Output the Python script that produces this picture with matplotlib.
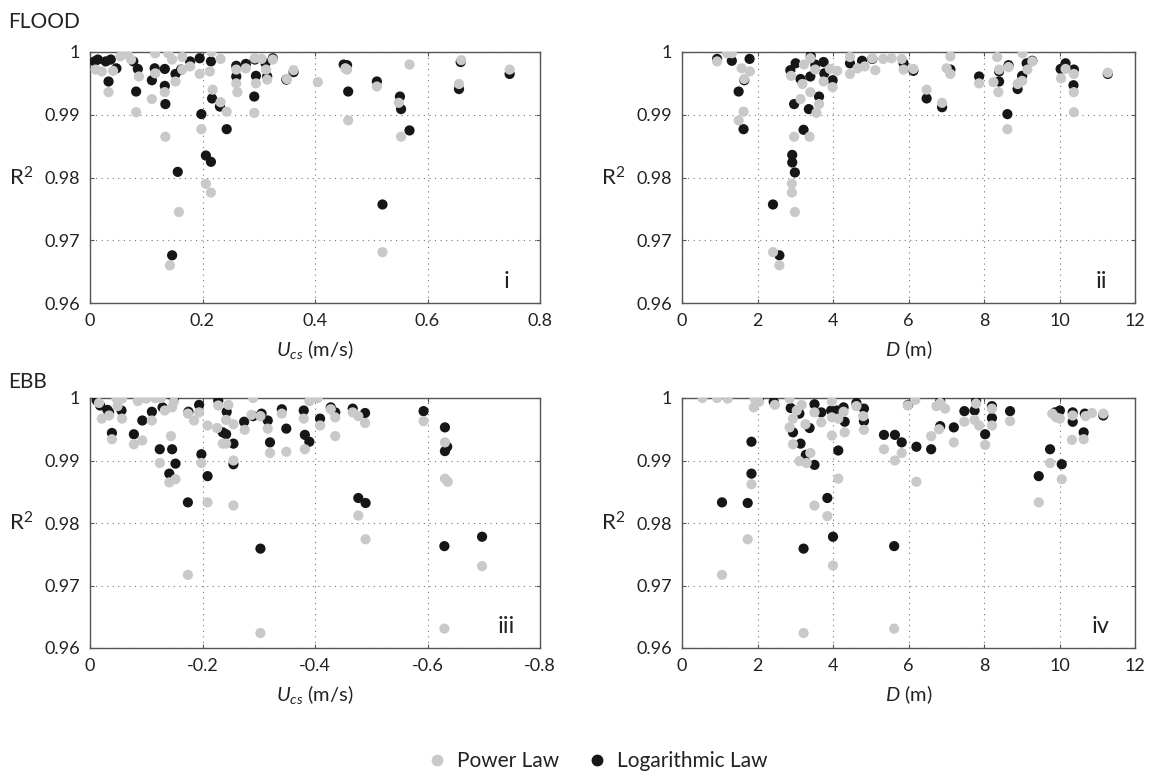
import matplotlib
matplotlib.use('Agg')
import matplotlib.pyplot as plt
import numpy as np

plt.rcParams['font.family'] = ['Lato', 'DejaVu Sans']
plt.rcParams['mathtext.fontset'] = 'custom'
plt.rcParams['mathtext.rm'] = 'Lato'
plt.rcParams['mathtext.it'] = 'Lato:italic'
plt.rcParams['axes.unicode_minus'] = False

# ---- panel i : flood, R2 vs Ucs ----
flood_u_log = [0.008, 0.014, 0.028, 0.037, 0.033, 0.047, 0.077, 0.085, 0.082, 0.110, 0.115, 0.133,
               0.133, 0.134, 0.152, 0.162, 0.156, 0.146, 0.178, 0.195, 0.198, 0.206, 0.215, 0.215,
               0.217, 0.231, 0.243, 0.260, 0.260, 0.277, 0.293, 0.295, 0.292, 0.312, 0.315, 0.325,
               0.349, 0.362, 0.451, 0.457, 0.459, 0.510, 0.520, 0.551, 0.553, 0.568, 0.659, 0.656,
               0.746]
flood_u_r2_log = [0.9985, 0.9988, 0.9985, 0.9988, 0.9953, 0.9974, 0.9985, 0.9973, 0.9937, 0.9955,
                  0.9974, 0.9973, 0.9946, 0.9917, 0.9965, 0.9972, 0.9809, 0.9676, 0.9985, 0.9990,
                  0.9901, 0.9835, 0.9825, 0.9985, 0.9926, 0.9913, 0.9877, 0.9978, 0.9961, 0.9981,
                  0.9988, 0.9962, 0.9929, 0.9982, 0.9961, 0.9990, 0.9956, 0.9968, 0.9980, 0.9979,
                  0.9937, 0.9953, 0.9757, 0.9929, 0.9909, 0.9875, 0.9984, 0.9941, 0.9965]
flood_u_pow = [0.010, 0.021, 0.033, 0.041, 0.054, 0.067, 0.073, 0.082, 0.087, 0.110, 0.116, 0.116,
               0.134, 0.133, 0.139, 0.146, 0.152, 0.142, 0.158, 0.164, 0.164, 0.178, 0.195, 0.198,
               0.206, 0.215, 0.216, 0.213, 0.218, 0.232, 0.232, 0.243, 0.260, 0.262, 0.260, 0.277,
               0.292, 0.295, 0.293, 0.305, 0.313, 0.315, 0.325, 0.350, 0.362, 0.405, 0.454, 0.457,
               0.459, 0.510, 0.520, 0.549, 0.553, 0.568, 0.660, 0.656, 0.746]
flood_u_r2_pow = [0.9972, 0.9969, 0.9936, 0.9970, 0.9993, 0.9996, 0.9988, 0.9904, 0.9961, 0.9925,
                  0.9998, 0.9966, 0.9865, 0.9936, 0.9998, 0.9988, 0.9953, 0.9660, 0.9745, 0.9992,
                  0.9972, 0.9977, 0.9965, 0.9877, 0.9790, 0.9776, 1.0000, 0.9969, 0.9940, 0.9989,
                  0.9920, 0.9905, 0.9950, 0.9936, 0.9972, 0.9974, 0.9903, 0.9950, 0.9990, 0.9989,
                  0.9972, 0.9956, 0.9988, 0.9957, 0.9971, 0.9952, 0.9974, 0.9972, 0.9891, 0.9945,
                  0.9681, 0.9919, 0.9865, 0.9980, 0.9987, 0.9949, 0.9972]

# ---- panel ii : flood, R2 vs D ----
flood_d_log = [0.93, 1.32, 1.50, 1.65, 1.63, 1.79, 2.41, 2.58, 2.87, 2.92, 2.92, 2.99, 2.97, 3.01,
               3.14, 3.22, 3.36, 3.40, 3.41, 3.53, 3.63, 3.75, 3.77, 3.99, 4.45, 4.77, 5.04, 5.87,
               6.13, 6.48, 6.89, 7.11, 7.87, 8.40, 8.40, 8.62, 8.65, 8.89, 9.01, 9.13, 9.28, 10.03,
               10.16, 10.38, 10.37, 11.28]
flood_d_r2_log = [0.9989, 0.9986, 0.9937, 0.9955, 0.9877, 0.9989, 0.9757, 0.9676, 0.9971, 0.9836,
                  0.9824, 0.9808, 0.9917, 0.9982, 0.9957, 0.9876, 0.9909, 0.9961, 0.9994, 0.9980,
                  0.9929, 0.9984, 0.9966, 0.9955, 0.9982, 0.9986, 0.9989, 0.9982, 0.9970, 0.9926,
                  0.9912, 0.9972, 0.9961, 0.9953, 0.9969, 0.9901, 0.9979, 0.9941, 0.9962, 0.9982,
                  0.9986, 0.9973, 0.9982, 0.9972, 0.9947, 0.9965]
flood_d_pow = [0.93, 1.19, 1.32, 1.50, 1.63, 1.58, 1.65, 1.80, 2.41, 2.58, 2.89, 2.91, 2.91, 2.99,
               2.97, 3.14, 3.19, 3.23, 3.38, 3.40, 3.40, 3.53, 3.56, 3.63, 3.75, 3.92, 3.99, 4.11,
               4.45, 4.45, 4.65, 4.84, 5.04, 5.12, 5.33, 5.55, 5.82, 5.87, 6.13, 6.48, 6.89, 7.11,
               7.11, 7.01, 7.87, 8.25, 8.35, 8.38, 8.40, 8.62, 8.65, 8.89, 9.01, 9.02, 9.15, 9.28,
               10.04, 10.16, 10.38, 10.38, 10.38, 11.28]
flood_d_r2_pow = [0.9985, 0.9998, 0.9998, 0.9891, 0.9905, 0.9974, 0.9957, 0.9969, 0.9681, 0.9660,
                  0.9962, 0.9790, 0.9776, 0.9745, 0.9865, 0.9925, 0.9949, 0.9980, 0.9865, 0.9936,
                  0.9990, 0.9972, 0.9903, 0.9917, 0.9953, 0.9973, 0.9944, 0.9970, 0.9965, 0.9992,
                  0.9974, 0.9977, 0.9990, 0.9971, 0.9989, 0.9990, 0.9989, 0.9972, 0.9973, 0.9940,
                  0.9919, 0.9993, 0.9965, 0.9974, 0.9950, 0.9952, 0.9992, 0.9936, 0.9972, 0.9877,
                  0.9976, 0.9949, 0.9954, 0.9998, 0.9972, 0.9985, 0.9958, 0.9973, 0.9965, 0.9936,
                  0.9904, 0.9967]

# ---- panel iii : ebb, R2 vs Ucs ----
ebb_u_log = [-0.012, -0.018, -0.031, -0.034, -0.039, -0.056, -0.078, -0.093, -0.110, -0.124, -0.129,
             -0.141, -0.146, -0.152, -0.149, -0.174, -0.175, -0.194, -0.198, -0.209, -0.228, -0.236,
             -0.242, -0.243, -0.255, -0.255, -0.274, -0.290, -0.303, -0.305, -0.316, -0.320, -0.341,
             -0.349, -0.380, -0.382, -0.390, -0.409, -0.428, -0.436, -0.467, -0.477, -0.489, -0.490,
             -0.593, -0.631, -0.631, -0.635, -0.630, -0.697]
ebb_u_r2_log = [0.9996, 0.9988, 0.9981, 0.9977, 0.9944, 0.9980, 0.9942, 0.9964, 0.9978, 0.9918,
                0.9985, 0.9879, 0.9918, 0.9895, 0.9999, 0.9833, 0.9978, 0.9989, 0.9910, 0.9875,
                0.9996, 0.9945, 0.9942, 0.9978, 0.9927, 0.9894, 0.9962, 0.9971, 0.9759, 0.9975,
                0.9964, 0.9929, 0.9982, 0.9951, 0.9980, 0.9941, 0.9930, 0.9967, 0.9985, 0.9977,
                0.9983, 0.9840, 0.9976, 0.9832, 0.9979, 0.9953, 0.9915, 0.9922, 0.9763, 0.9778]
ebb_u_pow = [-0.016, -0.021, -0.034, -0.039, -0.047, -0.057, -0.057, -0.049, -0.078, -0.093, -0.085,
             -0.100, -0.110, -0.116, -0.126, -0.124, -0.133, -0.141, -0.144, -0.146, -0.152, -0.149,
             -0.174, -0.174, -0.185, -0.194, -0.198, -0.209, -0.209, -0.226, -0.228, -0.236, -0.242,
             -0.242, -0.246, -0.255, -0.255, -0.255, -0.275, -0.287, -0.290, -0.303, -0.303, -0.316,
             -0.320, -0.341, -0.349, -0.380, -0.382, -0.390, -0.405, -0.409, -0.428, -0.436, -0.436,
             -0.467, -0.477, -0.477, -0.489, -0.490, -0.593, -0.631, -0.631, -0.636, -0.630, -0.697]
ebb_u_r2_pow = [0.9992, 0.9967, 0.9972, 0.9934, 0.9999, 0.9999, 0.9967, 0.9987, 0.9926, 0.9932,
                0.9995, 0.9999, 0.9964, 1.0000, 1.0000, 0.9896, 0.9980, 0.9865, 0.9939, 0.9985,
                0.9870, 0.9994, 0.9717, 0.9975, 0.9964, 0.9977, 0.9896, 0.9956, 0.9833, 0.9952,
                0.9988, 0.9927, 0.9965, 0.9927, 0.9989, 0.9958, 0.9900, 0.9828, 0.9949, 0.9973,
                1.0000, 0.9624, 0.9971, 0.9951, 0.9912, 0.9975, 0.9914, 0.9967, 0.9918, 0.9995,
                1.0000, 0.9956, 0.9982, 0.9939, 0.9969, 0.9977, 0.9812, 0.9971, 0.9960, 0.9774,
                0.9963, 0.9929, 0.9871, 0.9866, 0.9631, 0.9731]

# ---- panel iv : ebb, R2 vs D ----
ebb_d_log = [1.06, 1.74, 1.84, 1.84, 2.04, 2.43, 2.88, 2.94, 3.11, 3.14, 3.22, 3.28, 3.38, 3.51,
             3.51, 3.69, 3.85, 3.95, 4.00, 4.11, 4.14, 4.28, 4.31, 4.62, 4.82, 4.82, 5.35, 5.64,
             5.62, 5.82, 5.99, 6.21, 6.60, 6.84, 6.84, 7.20, 7.48, 7.75, 7.79, 8.03, 8.21, 8.21,
             8.69, 9.45, 9.75, 9.88, 10.01, 10.06, 10.35, 10.35, 10.64, 10.67, 11.16]
ebb_d_r2_log = [0.9833, 0.9832, 0.9879, 0.9930, 0.9999, 0.9994, 0.9984, 0.9945, 0.9975, 0.9927,
                0.9759, 0.9909, 0.9952, 0.9893, 0.9990, 0.9977, 0.9840, 0.9980, 0.9778, 0.9980,
                0.9916, 0.9985, 0.9962, 0.9992, 0.9983, 0.9963, 0.9941, 0.9941, 0.9763, 0.9929,
                0.9989, 0.9922, 0.9918, 0.9995, 0.9955, 0.9953, 0.9979, 0.9980, 0.9995, 0.9942,
                0.9987, 0.9968, 0.9979, 0.9875, 0.9918, 0.9977, 0.9980, 0.9894, 0.9977, 0.9962,
                0.9945, 0.9975, 0.9972]
ebb_d_pow = [0.54, 0.93, 1.21, 1.06, 1.74, 1.84, 1.90, 1.92, 2.04, 2.46, 2.85, 2.85, 2.94, 2.94,
             3.04, 3.11, 3.17, 3.22, 3.27, 3.30, 3.40, 3.51, 3.51, 3.69, 3.85, 3.97, 3.97, 3.97,
             4.00, 4.14, 4.14, 4.28, 4.31, 4.62, 4.80, 4.82, 5.35, 5.64, 5.62, 5.82, 5.98, 6.18,
             6.21, 6.60, 6.74, 6.84, 6.81, 6.97, 7.20, 7.48, 7.75, 7.79, 7.87, 8.03, 8.21, 8.21,
             8.69, 9.45, 9.75, 9.81, 9.91, 10.01, 10.06, 10.33, 10.35, 10.64, 10.69, 10.86, 11.16]
ebb_d_r2_pow = [1.0000, 1.0000, 0.9999, 0.9717, 0.9774, 0.9862, 0.9985, 0.9999, 0.9994, 0.9989,
                0.9999, 0.9953, 0.9967, 0.9926, 0.9980, 0.9899, 0.9989, 0.9624, 0.9958, 0.9896,
                0.9912, 0.9828, 0.9977, 0.9961, 0.9811, 0.9995, 0.9969, 0.9940, 0.9732, 0.9871,
                0.9967, 0.9978, 0.9945, 0.9987, 0.9971, 0.9949, 0.9918, 0.9900, 0.9631, 0.9912,
                0.9988, 0.9997, 0.9866, 0.9939, 0.9987, 0.9992, 0.9950, 0.9983, 0.9929, 0.9962,
                0.9965, 0.9991, 0.9956, 0.9925, 0.9983, 0.9956, 0.9963, 0.9833, 0.9896, 0.9975,
                0.9969, 0.9967, 0.9870, 0.9933, 0.9972, 0.9934, 0.9971, 0.9976, 0.9975]

y_ticks = [0.96, 0.97, 0.98, 0.99, 1.0]
y_ticklabels = ['0.96', '0.97', '0.98', '0.99', '1']
u_flood_ticks = [0, 0.2, 0.4, 0.6, 0.8]
u_flood_labels = ['0', '0.2', '0.4', '0.6', '0.8']
u_ebb_ticks = [0, -0.2, -0.4, -0.6, -0.8]
u_ebb_labels = ['0', '-0.2', '-0.4', '-0.6', '-0.8']
d_ticks = [0, 2, 4, 6, 8, 10, 12]
d_labels = ['0', '2', '4', '6', '8', '10', '12']

POW_C = '#c9c9c9'
LOG_C = '#161616'
TXT_C = '#222222'

W, H = 1153, 774
fig = plt.figure(figsize=(W / 100, H / 100), dpi=100)


def make_ax(left, top, right, bottom):
    return fig.add_axes([left / W, 1 - bottom / H, (right - left) / W, (bottom - top) / H])


def setup(ax, xlim, xt, xtl, xlabel, tag):
    ax.set_xlim(*xlim)
    ax.set_ylim(0.96, 1.0)
    ax.set_xticks(xt)
    ax.set_xticklabels(xtl)
    ax.set_yticks(y_ticks)
    ax.set_yticklabels(y_ticklabels)
    ax.tick_params(direction='in', length=3, width=0.8, color='#555555', labelsize=13,
                   labelcolor=TXT_C, pad=7, top=True, right=True)
    for s in ax.spines.values():
        s.set_color('#555555')
        s.set_linewidth(1.0)
    ax.grid(True, linestyle=(0, (1, 4)), color='#777777', linewidth=0.8)
    ax.set_axisbelow(True)
    ax.set_xlabel(xlabel, fontsize=14.5, color=TXT_C, labelpad=7)
    ax.text(-0.153, 0.5, r'R$^2$', transform=ax.transAxes, fontsize=16, color=TXT_C,
            ha='center', va='center')
    ax.text(0.925, 0.085, tag, transform=ax.transAxes, fontsize=17, color=TXT_C,
            ha='center', va='center')


def dots(ax, xl, yl, xp, yp):
    ax.scatter(xl, yl, s=54, color=LOG_C, edgecolors='none', zorder=3)
    ax.scatter(xp, yp, s=54, color=POW_C, edgecolors='none', zorder=4)


ax1 = make_ax(90, 52, 540, 303)
dots(ax1, flood_u_log, flood_u_r2_log, flood_u_pow, flood_u_r2_pow)
setup(ax1, (0, 0.8), u_flood_ticks, u_flood_labels, r'$U_{cs}$ (m/s)', 'i')

ax2 = make_ax(682, 52, 1135, 303)
dots(ax2, flood_d_log, flood_d_r2_log, flood_d_pow, flood_d_r2_pow)
setup(ax2, (0, 12), d_ticks, d_labels, r'$D$ (m)', 'ii')

ax3 = make_ax(90, 398, 540, 648)
dots(ax3, ebb_u_log, ebb_u_r2_log, ebb_u_pow, ebb_u_r2_pow)
setup(ax3, (0, -0.8), u_ebb_ticks, u_ebb_labels, r'$U_{cs}$ (m/s)', 'iii')

ax4 = make_ax(682, 398, 1135, 648)
dots(ax4, ebb_d_log, ebb_d_r2_log, ebb_d_pow, ebb_d_r2_pow)
setup(ax4, (0, 12), d_ticks, d_labels, r'$D$ (m)', 'iv')

fig.text(8 / W, 1 - 22 / H, 'FLOOD', fontsize=15, color=TXT_C, ha='left', va='center')
fig.text(8 / W, 1 - 382 / H, 'EBB', fontsize=15, color=TXT_C, ha='left', va='center')

h1 = plt.Line2D([], [], marker='o', ls='none', color=POW_C, markersize=7.5)
h2 = plt.Line2D([], [], marker='o', ls='none', color=LOG_C, markersize=7.5)
fig.legend([h1, h2], ['Power Law', 'Logarithmic Law'], loc='center', ncol=2, frameon=False,
           bbox_to_anchor=(598 / W, 1 - 761 / H), fontsize=15, handlelength=0.8,
           handletextpad=0.55, columnspacing=1.4, labelcolor=TXT_C)

fig.savefig('out.png', dpi=100)
